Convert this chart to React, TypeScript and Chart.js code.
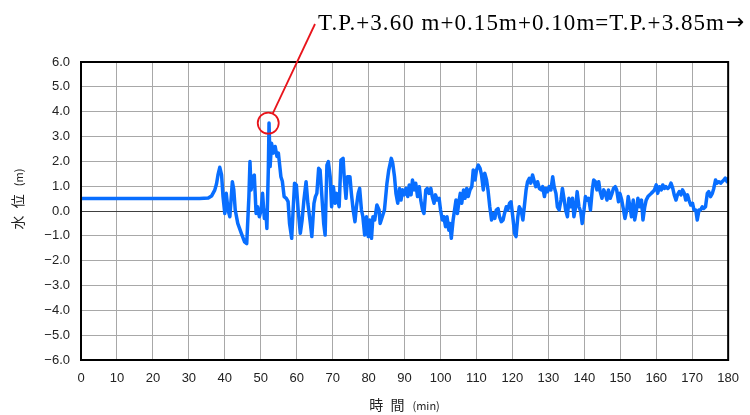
import React, { useEffect, useRef } from "react";
import { Chart, registerables } from "chart.js";

Chart.register(...registerables);

// time (min)
const times: number[] = [
  0, 10, 20, 30, 33, 35.4, 36.3, 37.2, 37.7, 38.1, 38.6, 39.1, 39.5, 40.0, 40.4, 40.9, 41.4, 41.8, 42.1, 42.5,
  42.9, 43.6, 44.6, 45.5, 46.1, 46.4, 46.7, 47.0, 47.3, 47.8, 48.2, 48.7, 49.1, 49.6, 50.1, 50.5, 51.0, 51.4,
  51.7, 52.1, 52.3, 52.6, 53.0, 53.5, 54.0, 54.5, 54.9, 55.6, 56.0, 56.5, 57.1, 57.6, 58.0, 58.6, 59.0, 59.4,
  59.9, 60.4, 61.0, 61.5, 62.0, 62.6, 63.1, 63.8, 64.2, 64.8, 65.2, 65.6, 66.1, 66.5, 67.0, 67.5, 67.9, 68.4,
  68.8, 69.3, 69.7, 70.2, 70.7, 71.1, 71.8, 72.3, 72.9, 73.2, 73.7, 74.1, 74.8, 75.2, 75.7, 76.2, 76.6, 77.1,
  77.5, 78.0, 78.4, 78.9, 79.4, 79.9, 80.3, 80.8, 81.2, 81.7, 82.3, 82.9, 83.2, 83.8, 84.4, 85.1, 85.6, 86.3,
  86.7, 87.2, 87.6, 88.1, 88.6, 89.0, 89.5, 89.9, 90.4, 90.9, 91.3, 91.8, 92.2, 92.7, 93.1, 93.6, 94.1, 94.5,
  95.0, 95.4, 95.9, 96.3, 96.8, 97.3, 97.7, 98.2, 98.6, 99.1, 99.6, 100.0, 100.5, 100.9, 101.4, 101.8, 102.3,
  102.6, 103.0, 103.5, 103.9, 104.3, 104.7, 105.1, 105.5, 105.9, 106.4, 106.8, 107.3, 107.7, 108.2, 108.7,
  109.1, 109.6, 110.0, 110.5, 111.0, 111.4, 111.9, 112.3, 112.8, 113.2, 113.7, 114.2, 114.6, 115.1, 115.5,
  116.0, 116.4, 116.9, 117.4, 117.8, 118.3, 118.7, 119.2, 119.6, 120.1, 120.6, 121.0, 121.5, 121.9, 122.4,
  122.9, 123.3, 123.8, 124.2, 124.7, 125.1, 125.6, 126.1, 126.5, 127.0, 127.5, 128.0, 128.4, 128.9, 129.3,
  129.8, 130.2, 130.7, 131.2, 131.6, 132.1, 132.5, 133.0, 133.5, 133.9, 134.4, 134.8, 135.3, 135.7, 136.2,
  136.7, 137.1, 137.6, 138.0, 138.5, 139.0, 139.4, 139.9, 140.3, 140.8, 141.2, 141.7, 142.2, 142.6, 143.1,
  143.5, 144.0, 144.4, 144.9, 145.4, 145.8, 146.3, 146.7, 147.2, 147.7, 148.1, 148.6, 149.0, 149.5, 149.9,
  150.4, 150.9, 151.3, 151.8, 152.2, 152.7, 153.1, 153.6, 154.0, 154.5, 154.9, 155.4, 155.9, 156.3, 156.8,
  157.2, 157.7, 158.2, 158.6, 159.1, 159.5, 160.0, 160.4, 160.9, 161.4, 161.8, 162.3, 162.7, 163.2, 163.7,
  164.1, 164.6, 165.0, 165.5, 165.9, 166.4, 166.9, 167.3, 167.8, 168.2, 168.7, 169.1, 169.6, 170.1, 170.5,
  171.0, 171.4, 171.9, 172.3, 172.8, 173.2, 173.7, 174.2, 174.6, 175.1, 175.6, 176.0, 176.5, 176.9, 177.4,
  177.9, 178.3, 178.8, 179.2, 179.7, 180.0,
];

// water level (m)
const levels: number[] = [
  0.5, 0.5, 0.5, 0.5, 0.5, 0.52, 0.6, 0.84, 1.1, 1.45, 1.76, 1.45, 0.58, -0.1, 0.71, 0.04, -0.23, 0.58, 1.18, 0.85,
  0.04, -0.5, -0.9, -1.24, -1.31, -0.36, 0.58, 1.99, 0.85, 1.38, 1.45, -0.1, 0.17, -0.23, 0.04, 0.71, -0.3, 0.04,
  -0.7, 1.66, 3.54, 1.79, 2.73, 2.33, 2.6, 2.2, 2.33, 1.38, 1.2, 0.58, 0.51, 0.38, -0.5, -1.1, 0.04, 1.12,
  1.05, 0.04, -0.9, -0.36, 0.44, 1.18, 0.31, -0.5, -1.03, 0.31, 0.58, 0.71, 1.72, 1.65, 0.58, -0.5, -0.97, 1.85,
  1.99, 1.38, 0.17, 0.98, 0.31, 0.71, 0.17, 2.05, 2.12, 1.38, 0.51, 1.38, 1.38, 0.71, 0.04, -0.43, 0.17, 0.71,
  0.91, 0.04, -0.23, -0.97, -0.23, -1.03, -0.36, -1.1, -0.23, -0.36, 0.24, 0.04, -0.5, -0.23, 0.04, 1.12, 1.65, 2.12,
  1.92, 1.38, 0.71, 0.31, 0.91, 0.44, 0.85, 0.65, 0.91, 0.58, 1.05, 0.65, 1.25, 0.85, 1.12, 0.58, 0.98, 0.44,
  0.04, -0.1, 0.85, 0.91, 0.71, 0.91, 0.58, 0.31, 0.65, 0.44, 0.51, 0.04, -0.36, -0.23, -0.63, -0.23, -0.77,
  -0.5, -1.1, -0.36, 0.04, 0.44, -0.1, 0.37, 0.71, 0.31, 0.85, 0.51, 0.91, 0.58, 0.85, 0.98,
  1.65, 1.25, 1.65, 1.85, 1.72, 1.45, 0.85, 1.52, 1.25, 0.85, 0.17, -0.36, -0.1, -0.3, 0.04,
  0.1, -0.23, -0.43, -0.36, -0.1, 0.17, 0.04, 0.31, 0.37, -0.23, -0.9, -1.03, -0.23, 0.17, 0.04,
  -0.36, 0.17, 0.85, 1.18, 1.32, 1.12, 1.45, 1.18, 0.98, 1.18, 0.9, 0.85, 0.98, 0.58, 0.91,
  0.78, 0.98, 0.85, 1.38, 0.98, 0.71, 0.17, 0.04, 0.44, 0.91, 0.44, 0.04, -0.23, 0.51, 0.17,
  0.51, -0.23, 0.17, 0.78, 0.17, -0.03, -0.5, 0.04, 0.58, 0.44, 0.51, 0.04, 0.85, 1.25, 1.18,
  0.85, 1.18, 0.78, 0.51, 0.85, 0.71, 0.44, 0.85, 0.51, 0.71, 0.91, 0.98, 0.85, 0.37, 0.71,
  0.44, 0.04, -0.3, 0.04, 0.58, 0.17, -0.23, 0.44, -0.36, 0.04, 0.51, 0.17, 0.44, -0.36, 0.17,
  0.44, 0.58, 0.65, 0.71, 0.78, 0.85, 1.05, 0.71, 0.98, 0.85, 1.05, 0.91, 0.98, 0.91, 0.98,
  1.12, 0.91, 0.65, 0.44, 0.65, 0.78, 0.65, 0.85, 0.71, 0.44, 0.65, 0.44, 0.24, 0.31, 0.04,
  0.04, -0.36, 0.04, 0.04, 0.17, 0.1, 0.17, 0.71, 0.78, 0.58, 0.71, 0.91, 1.25, 1.12, 1.18,
  1.12, 1.18, 1.25, 1.32, 1.18, 1.3,
];

const yTicks: number[] = [-6, -5, -4, -3, -2, -1, 0, 1, 2, 3, 4, 5, 6];
const xTicks: number[] = [0, 10, 20, 30, 40, 50, 60, 70, 80, 90, 100, 110, 120, 130, 140, 150, 160, 170, 180];

const annotationText = "T.P.+3.60 m+0.15m+0.10m=T.P.+3.85m";
const annotationArrow = "→";
const yTitleMain = "水 位";
const yTitleUnit = "(m)";
const xTitleMain = "時 間";
const xTitleUnit = "(min)";

const overlayPlugin = {
  id: "overlay",
  afterDraw(chart: any) {
    const ctx: any = chart.ctx;
    const { left, right, top, bottom } = chart.chartArea;
    ctx.save();
    // plot frame
    ctx.strokeStyle = "#000";
    ctx.lineWidth = 2;
    ctx.strokeRect(left, top, right - left, bottom - top);

    // annotation circle at peak
    let pi = 0;
    for (let i = 1; i < levels.length; i++) if (levels[i] > levels[pi]) pi = i;
    const cx = chart.scales.x.getPixelForValue(times[pi]) - 0.8;
    const cy = chart.scales.y.getPixelForValue(levels[pi]);
    const r = 10.5;
    ctx.strokeStyle = "#e8141b";
    ctx.lineWidth = 1.8;
    ctx.beginPath();
    ctx.arc(cx, cy, r, 0, Math.PI * 2);
    ctx.stroke();

    // leader line
    const tx = 318;
    const ty = 30;
    const ex = tx - 3;
    const ey = 24;
    const dx = ex - cx;
    const dy = ey - cy;
    const len = Math.sqrt(dx * dx + dy * dy);
    ctx.beginPath();
    ctx.moveTo(cx + (dx / len) * r, cy + (dy / len) * r);
    ctx.lineTo(ex, ey);
    ctx.stroke();

    // annotation text
    ctx.fillStyle = "#000";
    ctx.font = '23px "Liberation Serif", "Times New Roman", serif';
    ctx.textAlign = "left";
    ctx.textBaseline = "alphabetic";
    const targetW = 407;
    ctx.letterSpacing = "0px";
    const natural = ctx.measureText(annotationText).width;
    const ls = (targetW - natural) / annotationText.length;
    ctx.letterSpacing = ls.toFixed(2) + "px";
    ctx.fillText(annotationText, tx, ty);
    ctx.letterSpacing = "0px";
    ctx.font = '22px "DejaVu Sans", sans-serif';
    ctx.fillText(annotationArrow, tx + targetW + 1, ty - 1, 750 - (tx + targetW + 1));

    // axis titles
    const mainFont = '14px "Noto Sans CJK JP", sans-serif';
    const unitFont = '11px "Noto Sans CJK JP", sans-serif';
    ctx.fillStyle = "#222";
    ctx.textBaseline = "middle";
    ctx.letterSpacing = "2px";
    ctx.font = mainFont;
    const xm = ctx.measureText(xTitleMain).width;
    ctx.letterSpacing = "0px";
    ctx.font = unitFont;
    const xu = ctx.measureText(xTitleUnit).width;
    const gap = 6;
    let sx = (left + right) / 2 - (xm + gap + xu) / 2;
    ctx.letterSpacing = "2px";
    ctx.font = mainFont;
    ctx.fillText(xTitleMain, sx, 405);
    ctx.letterSpacing = "0px";
    ctx.font = unitFont;
    ctx.fillText(xTitleUnit, sx + xm + gap, 406);
    // y title
    ctx.translate(18, 199);
    ctx.rotate(-Math.PI / 2);
    ctx.letterSpacing = "2px";
    ctx.font = mainFont;
    const ym = ctx.measureText(yTitleMain).width;
    ctx.letterSpacing = "0px";
    ctx.font = unitFont;
    const yu = ctx.measureText(yTitleUnit).width;
    sx = -(ym + gap + yu) / 2;
    ctx.letterSpacing = "2px";
    ctx.font = mainFont;
    ctx.fillText(yTitleMain, sx, 0);
    ctx.letterSpacing = "0px";
    ctx.font = unitFont;
    ctx.fillText(yTitleUnit, sx + ym + gap, 1);
    ctx.restore();
  },
};

export default function App() {
  const ref = useRef<HTMLCanvasElement>(null);
  useEffect(() => {
    if (!ref.current) return;
    const chart = new Chart(ref.current, {
      type: "line",
      data: {
        datasets: [
          {
            data: times.map((t, i) => ({ x: t, y: levels[i] })),
            borderColor: "rgb(8,110,255)",
            borderWidth: 3.5,
            pointRadius: 0,
            tension: 0,
            borderJoinStyle: "round",
            borderCapStyle: "round",
          },
        ],
      },
      options: {
        animation: false,
        responsive: false,
        devicePixelRatio: 1,
        layout: { padding: { left: 0, right: 14, top: 62, bottom: 0 } },
        plugins: { legend: { display: false }, tooltip: { enabled: false } },
        scales: {
          x: {
            type: "linear",
            min: 0,
            max: 180,
            afterFit: (s: any) => {
              s.height = 55;
            },
            afterBuildTicks: (s: any) => {
              s.ticks = xTicks.map((v) => ({ value: v }));
            },
            ticks: {
              padding: 11,
              font: { family: '"Liberation Sans", Arial, sans-serif', size: 13 },
              color: "#222",
              maxRotation: 0,
              autoSkip: false,
              callback: (v: any) => String(v),
            },
            grid: { color: "#a8a8a8", lineWidth: 1, drawTicks: false },
            border: { display: false },
          },
          y: {
            type: "linear",
            min: -6,
            max: 6,
            afterFit: (s: any) => {
              s.width = 81;
            },
            afterBuildTicks: (s: any) => {
              s.ticks = yTicks.map((v) => ({ value: v }));
            },
            ticks: {
              padding: 11,
              font: { family: '"Liberation Sans", Arial, sans-serif', size: 13 },
              color: "#222",
              autoSkip: false,
              callback: (v: any) => (v < 0 ? "−" + Math.abs(v).toFixed(1) : Number(v).toFixed(1)),
            },
            grid: {
              color: (c: any) => (c.tick && c.tick.value === 0 ? "#404040" : "#a8a8a8"),
              lineWidth: 1,
              drawTicks: false,
            },
            border: { display: false },
          },
        },
      },
      plugins: [overlayPlugin],
    } as any);
    return () => chart.destroy();
  }, []);
  return (
    <div style={{ position: "fixed", left: 0, top: 0, width: 750, height: 415, background: "#fff" }}>
      <canvas ref={ref} width={750} height={415} style={{ width: 750, height: 415 }} />
    </div>
  );
}
